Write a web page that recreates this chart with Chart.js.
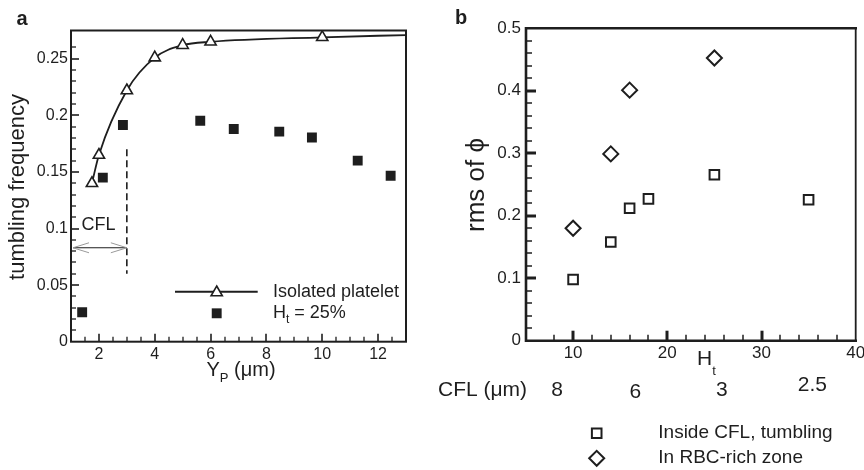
<!DOCTYPE html>
<html>
<head>
<meta charset="utf-8">
<script src="https://cdn.jsdelivr.net/npm/chart.js@4/dist/chart.umd.min.js"></script>
<style>
  html, body { margin: 0; padding: 0; background: #fff; overflow: hidden; width: 864px; height: 470px; }
  canvas { position: absolute; top: 0; }
</style>
</head>
<body>
<canvas id="chartA" width="420" height="470" style="left:0"></canvas>
<canvas id="chartB" width="470" height="470" style="left:420px"></canvas>
<script>
// ---- Panel a: tumbling frequency against distance from the wall ----
const isolatedYp   = [1.75, 2, 3, 4, 5, 6, 10];
const isolatedFreq = [0.140, 0.165, 0.222, 0.251, 0.262, 0.265, 0.269];
const fitYp        = [1.75, 2, 3, 4, 5, 6, 10, 13];
const fitFreq      = [0.140, 0.165, 0.222, 0.251, 0.262, 0.265, 0.269, 0.271];
const ht25Yp       = [1.4, 2.14, 2.86, 5.63, 6.83, 8.46, 9.63, 11.27, 12.45];
const ht25Freq     = [0.026, 0.145, 0.1915, 0.1953, 0.188, 0.1856, 0.1805, 0.160, 0.1466];
const cflEdgeYp    = 3;
const cflEdgeFreq  = [0.06, 0.17];
const cflArrowFreq = 0.083;
const cflArrowYp   = [1, 3];

// ---- Panel b: rms of the orientation angle against haematocrit ----
const tumblingHt  = [10, 14, 16, 18, 25, 35];
const tumblingRms = [0.098, 0.158, 0.212, 0.227, 0.2655, 0.2255];
const rbcHt       = [10, 14, 16, 25];
const rbcRms      = [0.180, 0.299, 0.401, 0.4525];
const cflValues   = ['8', '6', '3', '2.5'];
const cflValueHt  = [8.3, 16.6, 25.8, 35.4];

const INK = '#1e1e1e';
const FONT = '"Liberation Sans", Arial, Helvetica, sans-serif';
Chart.defaults.font.family = FONT;
Chart.defaults.color = INK;

const pts = (xs, ys) => xs.map((x, i) => ({ x, y: ys[i] }));
const fmt = v => String(parseFloat(v.toFixed(3)));

function text(ctx, str, x, y, size, align = 'left', weight = 'normal') {
  ctx.font = `${weight} ${size}px ${FONT}`;
  ctx.textAlign = align;
  ctx.textBaseline = 'middle';
  ctx.fillStyle = INK;
  ctx.fillText(str, x, y);
}

// text with one subscripted piece: main, sub, rest
function subText(ctx, main, sub, rest, x, y, size, subSize, subDrop, align = 'left') {
  ctx.font = `${size}px ${FONT}`;
  const w1 = ctx.measureText(main).width;
  const w3 = ctx.measureText(rest).width;
  ctx.font = `${subSize}px ${FONT}`;
  const w2 = ctx.measureText(sub).width;
  let left = x;
  if (align === 'center') left = x - (w1 + w2 + w3) / 2;
  text(ctx, main, left, y, size);
  text(ctx, sub, left + w1, y + subDrop, subSize);
  text(ctx, rest, left + w1 + w2, y, size);
}

// tick marks pointing into the plot area, along the bottom and left edges
function inwardTicks(chart, o) {
  const { ctx, chartArea: a } = chart;
  const xs = chart.scales.x, ys = chart.scales.y;
  ctx.save();
  ctx.strokeStyle = INK;
  ctx.lineCap = 'butt';
  xs.ticks.forEach(t => {
    if (t.value <= xs.min + 1e-9 || t.value >= xs.max - 1e-9) return;
    const major = t.label !== '';
    const px = Math.round(xs.getPixelForValue(t.value));
    ctx.lineWidth = major ? o.majorWidth : o.minorWidth;
    ctx.beginPath();
    ctx.moveTo(px, a.bottom);
    ctx.lineTo(px, a.bottom - (major ? o.majorLen : o.minorLen));
    ctx.stroke();
  });
  ys.ticks.forEach(t => {
    if (t.value <= ys.min + 1e-9 || t.value >= ys.max - 1e-9) return;
    const major = t.label !== '';
    const py = Math.round(ys.getPixelForValue(t.value));
    ctx.lineWidth = major ? o.majorWidth : o.minorWidth;
    ctx.beginPath();
    ctx.moveTo(a.left, py);
    ctx.lineTo(a.left + (major ? o.majorLen : o.minorLen), py);
    ctx.stroke();
  });
  ctx.restore();
}

function drawMarker(ctx, style, radius, x, y, fill, borderWidth) {
  ctx.save();
  ctx.fillStyle = fill;
  ctx.strokeStyle = INK;
  ctx.lineWidth = borderWidth;
  Chart.helpers.drawPoint(ctx, { pointStyle: style, radius, rotation: 0, borderWidth }, x, y);
  ctx.restore();
}

const hiddenGrid = { display: false, drawTicks: false, tickLength: 0 };

// ---------------- Panel a ----------------
const panelA = {
  id: 'panelA',
  beforeDatasetsDraw(chart) {
    const { ctx, chartArea: a } = chart;
    const xs = chart.scales.x, ys = chart.scales.y;
    ctx.save();
    ctx.strokeStyle = INK;
    ctx.lineWidth = 2;
    ctx.strokeRect(a.left, a.top, a.width, a.height);
    ctx.restore();
    inwardTicks(chart, { majorLen: 8, minorLen: 5, majorWidth: 1.6, minorWidth: 1.3 });

    // CFL boundary
    const bx = xs.getPixelForValue(cflEdgeYp);
    ctx.save();
    ctx.strokeStyle = INK;
    ctx.lineWidth = 1.6;
    ctx.setLineDash([7, 4]);
    ctx.beginPath();
    ctx.moveTo(bx, ys.getPixelForValue(cflEdgeFreq[1]));
    ctx.lineTo(bx, ys.getPixelForValue(cflEdgeFreq[0]));
    ctx.stroke();
    ctx.setLineDash([]);

    // CFL width arrow
    const ay = ys.getPixelForValue(cflArrowFreq);
    const x0 = xs.getPixelForValue(cflArrowYp[0]) + 2;
    const x1 = xs.getPixelForValue(cflArrowYp[1]);
    ctx.lineWidth = 1.1;
    ctx.beginPath();
    ctx.moveTo(x0, ay); ctx.lineTo(x1, ay);
    ctx.stroke();
    ctx.strokeStyle = '#9a9a9a';
    ctx.lineWidth = 1;
    ctx.beginPath();
    ctx.moveTo(x0 + 16, ay - 5); ctx.lineTo(x0, ay); ctx.lineTo(x0 + 16, ay + 5);
    ctx.moveTo(x1 - 16, ay - 5); ctx.lineTo(x1, ay); ctx.lineTo(x1 - 16, ay + 5);
    ctx.stroke();
    ctx.restore();
    text(ctx, 'CFL', 98.5, 225, 18, 'center');
  },
  afterDraw(chart) {
    const { ctx } = chart;
    text(ctx, 'a', 22, 19, 20, 'center', 'bold');

    ctx.save();
    ctx.translate(18, 187);
    ctx.rotate(-Math.PI / 2);
    text(ctx, 'tumbling frequency', 0, 0, 22, 'center');
    ctx.restore();

    subText(ctx, 'Y', 'P', ' (\u03bcm)', 241, 370, 20, 13, 8, 'center');

    // legend
    ctx.save();
    ctx.strokeStyle = INK;
    ctx.lineWidth = 2;
    ctx.beginPath();
    ctx.moveTo(175, 291.7); ctx.lineTo(257.7, 291.7);
    ctx.stroke();
    ctx.restore();
    drawMarker(ctx, 'triangle', 6.5, 216.7, 292.5, '#fff', 1.6);
    drawMarker(ctx, 'rect', 7, 216.7, 313.3, INK, 0);
    text(ctx, 'Isolated platelet', 273, 291.7, 18);
    subText(ctx, 'H', 't', ' = 25%', 273, 313.5, 18, 12, 6);
  }
};

new Chart(document.getElementById('chartA'), {
  type: 'scatter',
  data: {
    datasets: [
      {
        label: 'Isolated platelet',
        data: pts(isolatedYp, isolatedFreq),
        pointStyle: 'triangle',
        pointRadius: 6.5,
        pointBorderWidth: 1.6,
        pointBorderColor: INK,
        pointBackgroundColor: '#fff',
        order: 0
      },
      {
        label: 'H_t = 25%',
        data: pts(ht25Yp, ht25Freq),
        pointStyle: 'rect',
        pointRadius: 7,
        pointBorderWidth: 0,
        pointBackgroundColor: INK,
        order: 1
      },
      {
        label: 'Isolated platelet fit',
        data: pts(fitYp, fitFreq),
        showLine: true,
        cubicInterpolationMode: 'monotone',
        borderColor: INK,
        borderWidth: 1.8,
        pointRadius: 0,
        order: 2
      }
    ]
  },
  options: {
    responsive: false,
    animation: false,
    devicePixelRatio: 1,
    layout: { padding: { left: 0, top: 30.5, right: 14, bottom: 88.3 } },
    plugins: { legend: { display: false }, tooltip: { enabled: false } },
    scales: {
      x: {
        type: 'linear', min: 1, max: 13,
        grid: hiddenGrid, border: { display: false },
        ticks: {
          stepSize: 0.5, autoSkip: false, maxRotation: 0, padding: 3,
          font: { size: 16 },
          callback: v => (Math.abs(v - Math.round(v)) < 1e-9 && Math.round(v) % 2 === 0) ? fmt(v) : ''
        },
        afterFit: s => { s.height = 40; }
      },
      y: {
        type: 'linear', min: 0, max: 0.275,
        grid: hiddenGrid, border: { display: false },
        ticks: {
          stepSize: 0.01, autoSkip: false, padding: 3,
          font: { size: 16 },
          callback: v => (Math.round(v * 100) % 5 === 0) ? fmt(v) : ''
        },
        afterFit: s => { s.width = 71; }
      }
    }
  },
  plugins: [panelA]
});

// ---------------- Panel b ----------------
const panelB = {
  id: 'panelB',
  beforeDatasetsDraw(chart) {
    const { ctx, chartArea: a } = chart;
    ctx.save();
    ctx.strokeStyle = INK;
    ctx.lineCap = 'square';
    ctx.lineWidth = 2.6;
    ctx.beginPath();
    ctx.moveTo(a.right, a.top); ctx.lineTo(a.left, a.top);
    ctx.lineTo(a.left, a.bottom); ctx.lineTo(a.right, a.bottom);
    ctx.stroke();
    ctx.lineWidth = 1.8;
    ctx.beginPath();
    ctx.moveTo(a.right, a.top); ctx.lineTo(a.right, a.bottom);
    ctx.stroke();
    ctx.restore();
    inwardTicks(chart, { majorLen: 10, minorLen: 6, majorWidth: 3, minorWidth: 1.5 });
  },
  afterDraw(chart) {
    const { ctx } = chart;
    const xs = chart.scales.x;
    text(ctx, 'b', 41, 18, 20, 'center', 'bold');

    ctx.save();
    ctx.translate(57, 185);
    ctx.rotate(-Math.PI / 2);
    text(ctx, 'rms of \u03d5', 0, 0, 26, 'center');
    ctx.restore();

    subText(ctx, 'H', 't', '', 277, 359, 21, 13, 12);

    // CFL thickness for each haematocrit
    text(ctx, 'CFL (\u03bcm)', 18, 390, 21);
    const rowY = [390, 392, 390, 385];
    cflValues.forEach((s, i) => {
      text(ctx, s, xs.getPixelForValue(cflValueHt[i]), rowY[i], 21, 'center');
    });

    // legend
    drawMarker(ctx, 'rect', 6.8, 176.7, 433.3, 'rgba(0,0,0,0)', 2);
    drawMarker(ctx, 'rectRot', 7.5, 176.7, 458.3, 'rgba(0,0,0,0)', 2);
    text(ctx, 'Inside CFL, tumbling', 238.3, 433, 19);
    text(ctx, 'In RBC-rich zone', 238.3, 458, 19);
  }
};

new Chart(document.getElementById('chartB'), {
  type: 'scatter',
  data: {
    datasets: [
      {
        label: 'Inside CFL, tumbling',
        data: pts(tumblingHt, tumblingRms),
        pointStyle: 'rect',
        pointRadius: 6.8,
        pointBorderWidth: 2,
        pointBorderColor: INK,
        pointBackgroundColor: 'rgba(0,0,0,0)'
      },
      {
        label: 'In RBC-rich zone',
        data: pts(rbcHt, rbcRms),
        pointStyle: 'rectRot',
        pointRadius: 7.5,
        pointBorderWidth: 2,
        pointBorderColor: INK,
        pointBackgroundColor: 'rgba(0,0,0,0)'
      }
    ]
  },
  options: {
    responsive: false,
    animation: false,
    devicePixelRatio: 1,
    layout: { padding: { left: 0, top: 28.3, right: 34.3, bottom: 89.3 } },
    plugins: { legend: { display: false }, tooltip: { enabled: false } },
    scales: {
      x: {
        type: 'linear', min: 5, max: 40,
        grid: hiddenGrid, border: { display: false },
        ticks: {
          stepSize: 2, autoSkip: false, maxRotation: 0, padding: 2,
          font: { size: 17 },
          callback: v => (v % 10 === 0) ? fmt(v) : ''
        },
        afterFit: s => { s.height = 40; }
      },
      y: {
        type: 'linear', min: 0, max: 0.5,
        grid: hiddenGrid, border: { display: false },
        ticks: {
          stepSize: 0.02, autoSkip: false, padding: 5,
          font: { size: 17 },
          callback: v => (Math.round(v * 100) % 10 === 0) ? fmt(v) : ''
        },
        afterFit: s => { s.width = 106; }
      }
    }
  },
  plugins: [panelB]
});
</script>
</body>
</html>
